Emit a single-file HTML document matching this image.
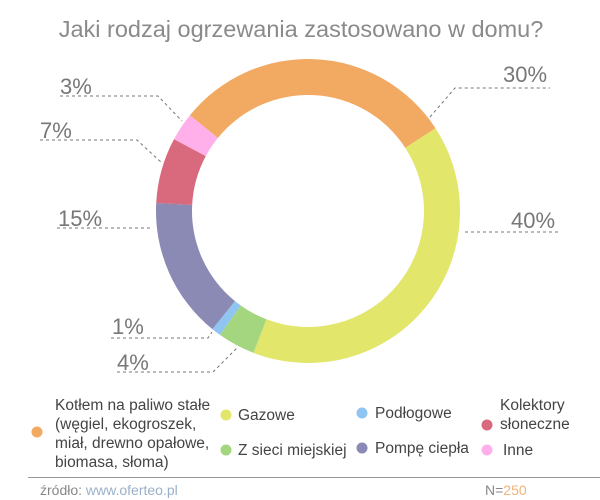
<!DOCTYPE html>
<html><head><meta charset="utf-8"><style>
body{margin:0;width:600px;height:500px;background:#fff;overflow:hidden;font-family:"Liberation Sans",sans-serif}
svg{position:absolute;left:0;top:0}
</style></head><body>
<svg width="600" height="500" viewBox="0 0 600 500">
<g id="donut"></g>
<text x="301" y="37" text-anchor="middle" font-size="23.5" fill="#8a8a8a" font-family="Liberation Sans">Jaki rodzaj ogrzewania zastosowano w domu?</text>
<g fill="#777" font-size="22" font-family="Liberation Sans">
<text x="503" y="82">30%</text>
<text x="511" y="228">40%</text>
<text x="60" y="94">3%</text>
<text x="40" y="138">7%</text>
<text x="58" y="226">15%</text>
<text x="112" y="334">1%</text>
<text x="117" y="370">4%</text>
</g>
<g stroke="#777" stroke-width="1" stroke-dasharray="3,3" fill="none">
<polyline points="430,117 455,88 550,88"/>
<polyline points="465,232 560,232"/>
<polyline points="60,96 158,96 182,121"/>
<polyline points="40,140 137,140 162,163"/>
<polyline points="57,228 153,228"/>
<polyline points="111,338 208,338 212,332"/>
<polyline points="117,372 213,372 237,348"/>
</g>
<g font-size="15.5" fill="#444" font-family="Liberation Sans">
<circle cx="37" cy="432" r="5.5" fill="#f2a962"/>
<text x="55" y="410">Kotłem na paliwo stałe</text>
<text x="55" y="429">(węgiel, ekogroszek,</text>
<text x="55" y="448">miał, drewno opałowe,</text>
<text x="55" y="467">biomasa, słoma)</text>
<circle cx="226" cy="415" r="5.5" fill="#e2e66a"/>
<text x="238" y="420">Gazowe</text>
<circle cx="226" cy="450" r="5.5" fill="#a3d67f"/>
<text x="238" y="455">Z sieci miejskiej</text>
<circle cx="362" cy="413" r="5.5" fill="#8fc5f0"/>
<text x="375" y="418">Podłogowe</text>
<circle cx="362" cy="448" r="5.5" fill="#8a8ab4"/>
<text x="375" y="453">Pompę ciepła</text>
<circle cx="487" cy="425" r="5.5" fill="#d9697c"/>
<text x="500" y="410">Kolektory</text>
<text x="500" y="429">słoneczne</text>
<circle cx="487" cy="450" r="5.5" fill="#ffb0ea"/>
<text x="503" y="455">Inne</text>
</g>
<line x1="28" y1="477.5" x2="600" y2="477.5" stroke="#999" stroke-width="1"/>
<text x="40" y="495" font-size="14" fill="#888">źródło: <tspan fill="#9ab0c8">www.oferteo.pl</tspan></text>
<text x="485" y="495" font-size="14" fill="#888">N=<tspan fill="#f2b47a">250</tspan></text>
</svg>
<script>
var cx=308,cy=211,R=152,r=116;
var segs=[[30,"#f2a962"],[40,"#e2e66a"],[4,"#a3d67f"],[1,"#8fc5f0"],[15,"#8a8ab4"],[7,"#d9697c"],[3,"#ffb0ea"]];
var a=-51,h="";
function p(rad,deg){var t=deg*Math.PI/180;return (cx+rad*Math.sin(t)).toFixed(2)+","+(cy-rad*Math.cos(t)).toFixed(2);}
segs.forEach(function(s){var b=a+s[0]*3.6;var l=(b-a)>180?1:0;
h+='<path fill="'+s[1]+'" d="M'+p(R,a)+' A'+R+','+R+' 0 '+l+' 1 '+p(R,b)+' L'+p(r,b)+' A'+r+','+r+' 0 '+l+' 0 '+p(r,a)+' Z"/>';a=b;});
document.getElementById("donut").innerHTML=h;
</script>
</body></html>
